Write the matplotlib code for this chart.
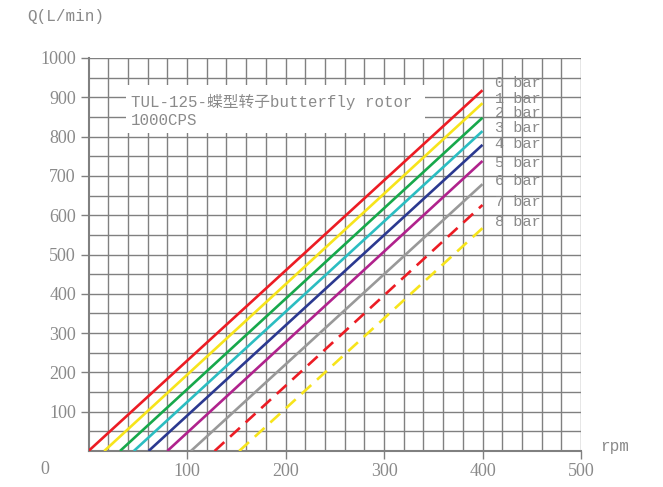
import matplotlib
matplotlib.use("Agg")
import matplotlib.pyplot as plt
from matplotlib.patches import Rectangle

# Data
pressures = ["0 bar", "1 bar", "2 bar", "3 bar", "4 bar", "5 bar", "6 bar", "7 bar", "8 bar"]
start_rpm = [0, 16, 32, 46, 61, 80, 104, 128, 153]          # flow = 0 at these rpm
end_rpm = [400] * 9
end_flow = [918, 885, 848, 814, 779, 738, 679, 626, 567]    # flow at 400 rpm
label_y = [936, 895, 860, 822, 781, 733, 687, 634, 583]
colors = ["#ec1c24", "#f7e41b", "#17a84b", "#2bbdc1", "#2b3990", "#b0228c", "#999999", "#ec1c24", "#f7e41b"]
styles = ["-", "-", "-", "-", "-", "-", "-", "--", "--"]
x_ticks = [100, 200, 300, 400, 500]
y_ticks = [100, 200, 300, 400, 500, 600, 700, 800, 900, 1000]

GRAY = "#808080"
TXT = "#8a8a8a"
FONT = ["Liberation Mono", "Noto Sans CJK SC"]
SERIF = ["Liberation Serif", "DejaVu Serif"]

fig = plt.figure(figsize=(6.63, 4.87), dpi=100)
ax = fig.add_axes([88.5 / 663, 1 - 451 / 487, (581 - 88.5) / 663, (451 - 58) / 487])
ax.set_xlim(0, 500)
ax.set_ylim(0, 1000)

# grid
for gx in range(20, 501, 20):
    ax.axvline(gx, color=GRAY, lw=1.0, zorder=1)
for gy in range(50, 1001, 50):
    ax.axhline(gy, color=GRAY, lw=1.0, zorder=1)

for s in ["top", "right"]:
    ax.spines[s].set_visible(False)
for s in ["left", "bottom"]:
    ax.spines[s].set_color(GRAY)
    ax.spines[s].set_linewidth(1.5)

ax.set_xticks(x_ticks)
ax.set_yticks(y_ticks)
ax.set_xticklabels([str(v) for v in x_ticks])
ax.set_yticklabels([str(v) for v in y_ticks])
ax.tick_params(direction="out", length=6, width=1.0, color=GRAY, labelcolor=TXT,
               labelsize=13, pad=3)
for lab in ax.get_xticklabels() + ax.get_yticklabels():
    lab.set_family(SERIF)

# lines
for i in range(len(pressures)):
    ln, = ax.plot([start_rpm[i], end_rpm[i]], [0, end_flow[i]], color=colors[i],
                  lw=1.9, ls=styles[i], zorder=3, solid_capstyle="butt")
    if styles[i] == "--":
        ln.set_dashes((5, 3))
    ax.text(413, label_y[i], pressures[i], color=TXT, fontsize=11, family=FONT,
            va="center", ha="left", zorder=4)

# title box
ax.add_patch(Rectangle((38, 809), 304, 122, facecolor="white", edgecolor="none", zorder=2))
ax.text(43, 888, "TUL-125-蝶型转子butterfly rotor", color=TXT, fontsize=11.3,
        family=FONT, va="center", ha="left", zorder=4)
ax.text(43, 840, "1000CPS", color=TXT, fontsize=11.3, family=FONT,
        va="center", ha="left", zorder=4)

fig.text(27 / 663, 1 - 17 / 487, "Q(L/min)", color=TXT, fontsize=11.5, family=FONT,
         va="center", ha="left")
fig.text(600 / 663, 1 - 447 / 487, "rpm", color=TXT, fontsize=11.5, family=FONT,
         va="center", ha="left")
fig.text(45 / 663, 1 - 470 / 487, "0", color=TXT, fontsize=13, family=SERIF,
         va="center", ha="center")

fig.savefig("out.png", dpi=100)
